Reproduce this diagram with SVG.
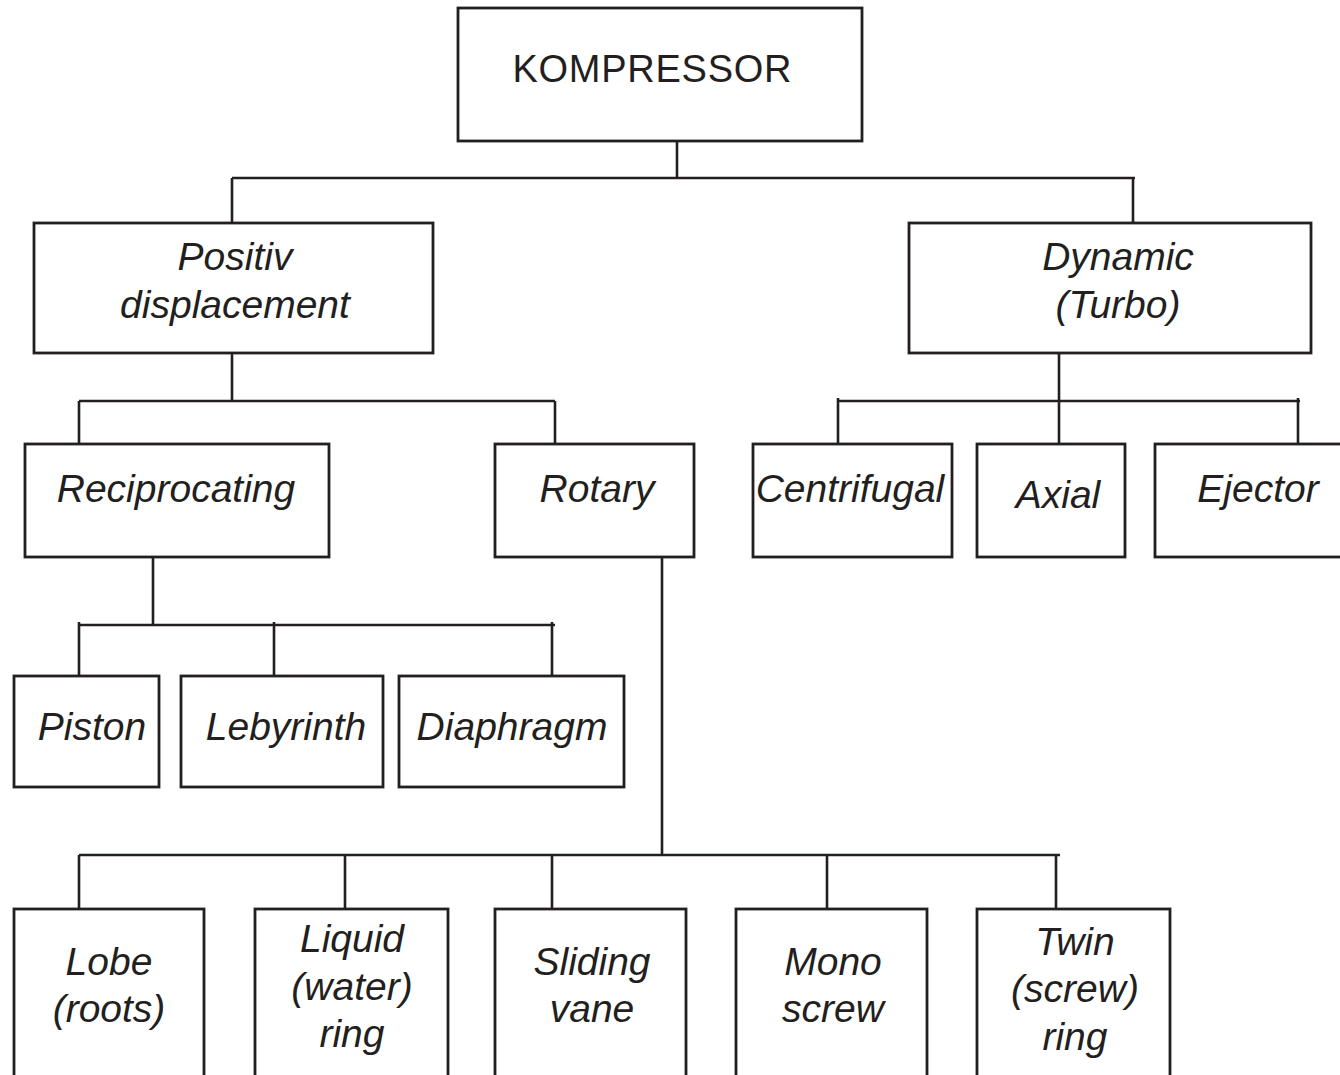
<svg xmlns="http://www.w3.org/2000/svg" width="1340" height="1075" viewBox="0 0 1340 1075">
<style>
.box{fill:#fff;stroke:#231f20;stroke-width:2.8}
.ln{fill:none;stroke:#231f20;stroke-width:2.6}
.t{font-family:"Liberation Sans",Arial,sans-serif;font-size:39px;font-style:italic;fill:#231f20;text-anchor:middle}
.tu{font-family:"Liberation Sans",Arial,sans-serif;font-size:38px;fill:#231f20;text-anchor:middle}
</style>
<rect width="1340" height="1075" fill="#fff"/>
<g id="connectors">
<path class="ln" d="M677 141V178M232 178H1135M232 178V223M1133 178V223"/>
<path class="ln" d="M232 353V401M79 401H555M79 401V444M555 401V444"/>
<path class="ln" d="M1059 353V444M838 401H1300M838 398V444M1298 398V444"/>
<path class="ln" d="M153 557V625M79 625H555M79 622V676M274 622V676M552 622V676"/>
<path class="ln" d="M662 557V855M79 855H1060M79 855V909M345 855V909M552 855V909M827 855V909M1056 855V909"/>
</g>
<g id="kompressor"><rect class="box" x="458" y="8" width="404" height="133" stroke-width="3.2"/><text class="tu" x="652" y="82" textLength="279">KOMPRESSOR</text></g>
<g id="positiv"><rect class="box" x="34" y="223" width="399" height="130"/><text class="t" x="235" y="270">Positiv</text><text class="t" x="235" y="318">displacement</text></g>
<g id="dynamic"><rect class="box" x="909" y="223" width="402" height="130"/><text class="t" x="1118" y="270">Dynamic</text><text class="t" x="1118" y="318">(Turbo)</text></g>
<g id="reciprocating"><rect class="box" x="25" y="444" width="304" height="113"/><text class="t" x="176" y="502">Reciprocating</text></g>
<g id="rotary"><rect class="box" x="495" y="444" width="199" height="113"/><text class="t" x="597" y="502">Rotary</text></g>
<g id="centrifugal"><rect class="box" x="753" y="444" width="199" height="113"/><text class="t" x="850" y="502">Centrifugal</text></g>
<g id="axial"><rect class="box" x="977" y="444" width="148" height="113"/><text class="t" x="1058" y="508">Axial</text></g>
<g id="ejector"><rect class="box" x="1155" y="444" width="200" height="113"/><text class="t" x="1258" y="502">Ejector</text></g>
<g id="piston"><rect class="box" x="14" y="676" width="145" height="111"/><text class="t" x="92" y="740">Piston</text></g>
<g id="lebyrinth"><rect class="box" x="181" y="676" width="202" height="111"/><text class="t" x="286" y="740">Lebyrinth</text></g>
<g id="diaphragm"><rect class="box" x="399" y="676" width="225" height="111"/><text class="t" x="512" y="740">Diaphragm</text></g>
<g id="lobe"><rect class="box" x="14" y="909" width="190" height="180"/><text class="t" x="109" y="975">Lobe</text><text class="t" x="109" y="1022">(roots)</text></g>
<g id="liquid"><rect class="box" x="255" y="909" width="193" height="180"/><text class="t" x="352" y="952">Liquid</text><text class="t" x="352" y="1000">(water)</text><text class="t" x="352" y="1047">ring</text></g>
<g id="sliding"><rect class="box" x="495" y="909" width="191" height="180"/><text class="t" x="592" y="975">Sliding</text><text class="t" x="592" y="1022">vane</text></g>
<g id="mono"><rect class="box" x="736" y="909" width="191" height="180"/><text class="t" x="833" y="975">Mono</text><text class="t" x="833" y="1022">screw</text></g>
<g id="twin"><rect class="box" x="977" y="909" width="193" height="180"/><text class="t" x="1075" y="955">Twin</text><text class="t" x="1075" y="1002">(screw)</text><text class="t" x="1075" y="1050">ring</text></g>
</svg>
